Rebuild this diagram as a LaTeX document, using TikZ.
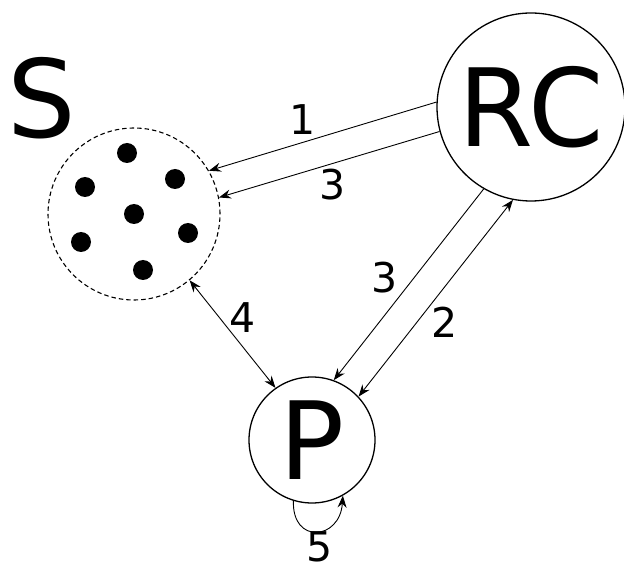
\documentclass[tikz,border=0pt]{standalone}
\usepackage{fontspec}
\setmainfont{DejaVu Sans}
\usetikzlibrary{arrows.meta}
\tikzset{
  big/.style={font=\fontsize{108}{108}\selectfont, inner sep=0pt},
  num/.style={font=\fontsize{41}{41}\selectfont, inner sep=0pt},
  circ/.style={circle, draw, line width=1.3pt, inner sep=0pt},
  conn/.style={line width=0.9pt, >={Stealth[length=12pt,width=9pt,inset=4pt]}},
}
\begin{document}
\begin{tikzpicture}[x=1pt,y=-1pt]
\useasboundingbox (0,0) rectangle (624,569);
% nodes
\node[circ, minimum size=172pt, dash pattern=on 4.5pt off 3pt, line width=1.1pt] (S) at (134,214) {};
\node[big] (Slabel) at (42,98) {S};
\node[circ, minimum size=188pt, big] (RC) at (531,107) {RC};
\node[circ, minimum size=126pt, big] (P) at (312,440) {P};
% dots
\foreach \n/\x/\y in {d1/127/153, d2/175/179, d3/85/187, d4/134/214, d5/188/233, d6/81/242, d7/143/270}
  \fill (\x,\y) circle (10pt) node (\n) {};
% connectors
\draw[conn,->] (RC.177) -- (S.30);
\draw[conn,->] (RC.195) -- (S.11);
\draw[conn,->] (RC.240) -- (P.70);
\draw[conn,<->] (P.43) -- (RC.259);
\draw[conn,<->] (S.-50) -- (P.125);
\draw[conn,->] (P.253) .. controls (292,545) and (340,540) .. (P.299);
% labels
\node[num] (l1) at (303,120) {1};
\node[num] (l3a) at (333,185) {3};
\node[num] (l3b) at (385,278) {3};
\node[num] (l2) at (445,322) {2};
\node[num] (l4) at (243,318) {4};
\node[num] (l5) at (320,547) {5};
\end{tikzpicture}
\end{document}
